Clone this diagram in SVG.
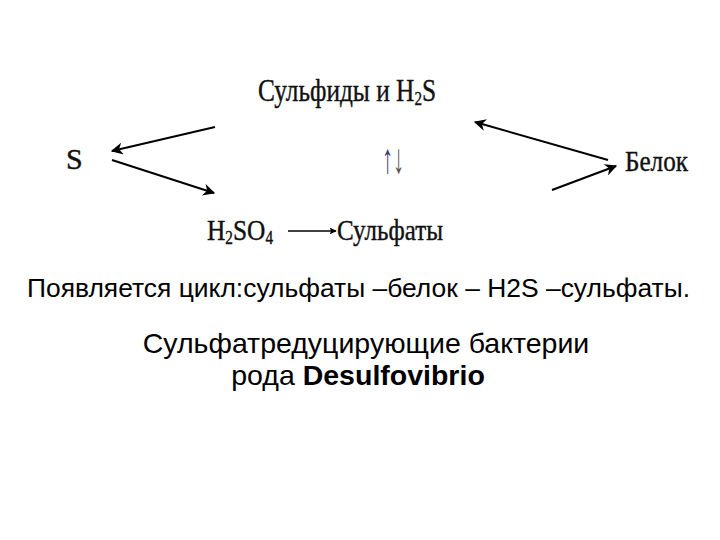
<svg xmlns="http://www.w3.org/2000/svg" width="720" height="540" viewBox="0 0 720 540">
<style>
.t{font-family:"Liberation Serif","Times New Roman",serif;fill:#111;stroke:#111;stroke-width:0.4}
.s{font-family:"Liberation Sans",Arial,sans-serif;fill:#000}
.c{stroke:#000;stroke-width:2;fill:none}
</style>
<defs>
<marker id="ah" viewBox="0 0 10 10" refX="9" refY="5" markerWidth="7" markerHeight="7" orient="auto" markerUnits="userSpaceOnUse">
<path d="M0,0 L10,5 L0,10 L2,5 Z" fill="#000"/>
</marker>
<marker id="ah2" viewBox="0 0 10 10" refX="9" refY="5" markerWidth="14" markerHeight="12" orient="auto" markerUnits="userSpaceOnUse">
<path d="M0,0 L10,5 L0,10 L3,5 Z" fill="#000"/>
</marker>
</defs>
<rect width="720" height="540" fill="#fff"/>
<g id="sulfides"><text class="t" x="258" y="101" font-size="32" textLength="178" lengthAdjust="spacingAndGlyphs">Сульфиды и H<tspan font-size="19" dy="4">2</tspan><tspan dy="-4">S</tspan></text></g>
<g id="sulfur"><text class="t" x="66" y="169" font-size="30">S</text></g>
<g id="protein"><text class="t" x="625" y="171" font-size="30" textLength="63" lengthAdjust="spacingAndGlyphs">Белок</text></g>
<g id="h2so4"><text class="t" x="207" y="240" font-size="30" textLength="66" lengthAdjust="spacingAndGlyphs">H<tspan font-size="18" dy="4">2</tspan><tspan dy="-4">SO</tspan><tspan font-size="18" dy="4">4</tspan></text></g>
<g id="sulfates"><text class="t" x="337" y="240" font-size="30" textLength="106" lengthAdjust="spacingAndGlyphs">Сульфаты</text></g>
<g id="updown"><text x="382" y="173" font-size="42" font-family="Liberation Serif,serif" textLength="22" lengthAdjust="spacingAndGlyphs"><tspan fill="#3b3b6b">↑</tspan><tspan fill="#555">↓</tspan></text></g>
<g id="connectors">
<line class="c" x1="215" y1="127" x2="112" y2="151" marker-end="url(#ah2)"/>
<line class="c" x1="112" y1="160" x2="214" y2="193" marker-end="url(#ah2)"/>
<line class="c" x1="608" y1="160" x2="475" y2="122" marker-end="url(#ah2)"/>
<line class="c" x1="552" y1="190" x2="616" y2="166" marker-end="url(#ah2)"/>
<line x1="288" y1="231" x2="336" y2="231" stroke="#000" stroke-width="1.3" marker-end="url(#ah)"/>
</g>
<g id="caption">
<text class="s" x="27" y="297" font-size="25" textLength="663" lengthAdjust="spacingAndGlyphs">Появляется цикл:сульфаты –белок – H2S –сульфаты.</text>
<text class="s" x="366" y="353" font-size="28.5" text-anchor="middle">Сульфатредуцирующие бактерии</text>
<text class="s" x="358" y="385" font-size="28.5" text-anchor="middle">рода <tspan font-weight="bold">Desulfovibrio</tspan></text>
</g>
</svg>
